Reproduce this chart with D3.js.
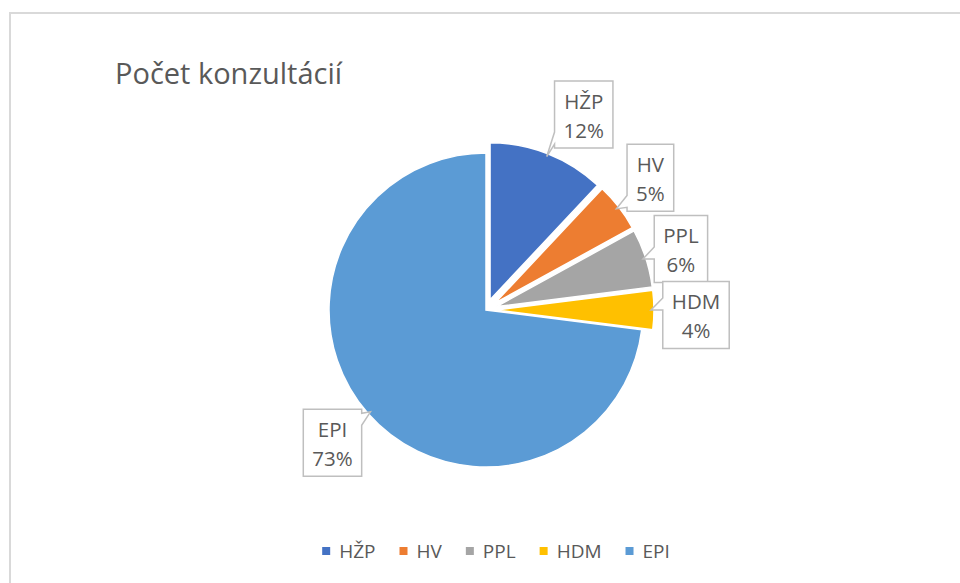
<!DOCTYPE html>
<html>
<head>
<meta charset="utf-8">
<script src="https://cdn.jsdelivr.net/npm/d3@7"></script>
<style>
  body { margin: 0; background: #fff; }
  svg text { font-family: "Open Sans", "Noto Sans", sans-serif; fill: #595959; }
</style>
</head>
<body>
<div id="chart"></div>
<script>
// data
const categories = ['HŽP', 'HV', 'PPL', 'HDM', 'EPI'];
const values = [12, 5, 6, 4, 73];
const sliceColors = ['#4472C4', '#ED7D31', '#A5A5A5', '#FFC000', '#5B9BD5'];
const title = 'Počet konzultácií';

const w = 960, h = 583;
const cx = 486, cy = 310, r = 157;
const explode = 11;

// label box offsets from the callout tip (layout only)
const labelOffset = {
  'HŽP': [37, -42],
  'HV':  [34, -31],
  'PPL': [38, -10],
  'HDM': [45, 5],
  'EPI': [-38, 31]
};

const svg = d3.select('#chart')
  .append('svg')
    .attr('width', w)
    .attr('height', h);

// chart border
svg.append('rect')
  .attr('x', 10)
  .attr('y', 13)
  .attr('width', w + 20)
  .attr('height', h + 20)
  .attr('fill', 'none')
  .attr('stroke', '#d9d9d9')
  .attr('stroke-width', 2);

svg.append('text')
  .attr('x', 115)
  .attr('y', 84)
  .style('font-size', '29px')
  .text(title);

const total = d3.sum(values);
const data = categories.map((c, i) => ({ label: c, value: values[i], color: sliceColors[i] }));

const pie = d3.pie()
  .value(d => d.value)
  .sort(null);

const arc = d3.arc()
  .innerRadius(0)
  .outerRadius(r);

const arcs = pie(data);

function offsetOf(d) {
  const mid = (d.startAngle + d.endAngle) / 2;
  const e = d.data.label === 'EPI' ? 0 : explode;
  return [Math.sin(mid) * e, -Math.cos(mid) * e];
}

const g = svg.append('g')
  .attr('transform', 'translate(' + cx + ',' + cy + ')');

g.selectAll('path')
  .data(arcs)
  .enter()
  .append('path')
  .attr('transform', d => 'translate(' + offsetOf(d) + ')')
  .attr('d', arc)
  .attr('fill', d => d.data.color)
  .attr('stroke', '#fff')
  .attr('stroke-width', 1.5);

// callout labels
const labels = svg.append('g');
arcs.forEach(d => {
  const mid = (d.startAngle + d.endAngle) / 2;
  const o = offsetOf(d);
  const tx = cx + o[0] + Math.sin(mid) * (r - 3);
  const ty = cy + o[1] - Math.cos(mid) * (r - 3);
  const off = labelOffset[d.data.label];
  const bx = tx + off[0], by = ty + off[1];

  const lg = labels.append('g');
  const t1 = lg.append('text')
    .attr('x', bx).attr('y', by - 6)
    .attr('text-anchor', 'middle')
    .style('font-size', '20.5px')
    .text(d.data.label);
  const t2 = lg.append('text')
    .attr('x', bx).attr('y', by + 23)
    .attr('text-anchor', 'middle')
    .style('font-size', '20.5px')
    .text(Math.round(d.data.value / total * 100) + '%');
  const tw = Math.max(t1.node().getComputedTextLength(), t2.node().getComputedTextLength());
  const bw = tw + 18, bh = 67;
  const x0 = bx - bw / 2, y0 = by - bh / 2, x1 = bx + bw / 2, y1 = by + bh / 2;

  // wedge on the side facing the tip
  let pts;
  const base = 12;
  if (tx < x0) {
    const yb = Math.max(y0 + 4, Math.min(y1 - 4 - base, ty - base));
    pts = [[x0, y0], [x1, y0], [x1, y1], [x0, y1], [x0, yb + base], [tx, ty], [x0, yb]];
  } else if (tx > x1) {
    const yb = Math.max(y0 + 4, Math.min(y1 - 4 - base, ty - base / 2));
    pts = [[x0, y0], [x1, y0], [x1, yb], [tx, ty], [x1, yb + base], [x1, y1], [x0, y1]];
  } else if (ty > y1) {
    const xb = Math.max(x0 + 4, Math.min(x1 - 4 - base, tx));
    pts = [[x0, y0], [x1, y0], [x1, y1], [xb + base, y1], [tx, ty], [xb, y1], [x0, y1]];
  } else {
    const xb = Math.max(x0 + 4, Math.min(x1 - 4 - base, tx));
    pts = [[x0, y0], [xb, y0], [tx, ty], [xb + base, y0], [x1, y0], [x1, y1], [x0, y1]];
  }
  lg.insert('path', 'text')
    .attr('d', 'M' + pts.join('L') + 'Z')
    .attr('fill', '#fff')
    .attr('stroke', '#bfbfbf')
    .attr('stroke-width', 1.5);
});

// legend
const legend = svg.append('g');
let lx = 0;
data.forEach(d => {
  const it = legend.append('g');
  it.append('rect')
    .attr('x', 0).attr('y', -4)
    .attr('width', 8).attr('height', 8)
    .attr('fill', d.color);
  const t = it.append('text')
    .attr('x', 17).attr('y', 7)
    .style('font-size', '19px')
    .text(d.label);
  it.attr('transform', 'translate(' + lx + ',0)');
  lx += 17 + t.node().getComputedTextLength() + 24;
});
lx -= 24;
legend.attr('transform', 'translate(' + (496 - lx / 2) + ',551)');
</script>
</body>
</html>
